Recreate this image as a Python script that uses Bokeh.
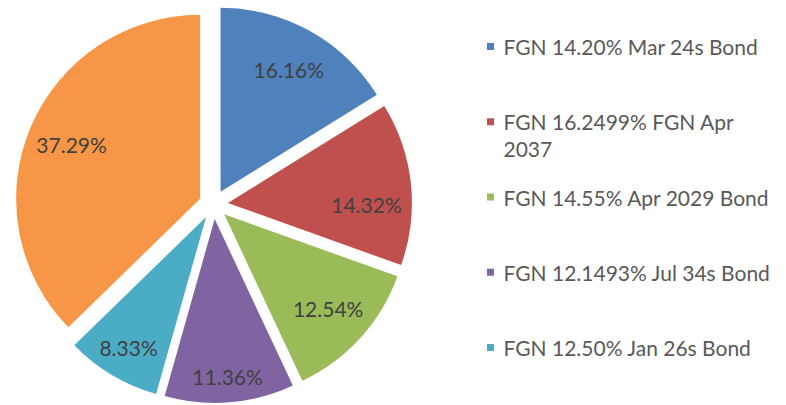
import numpy as np
from bokeh.plotting import figure
from bokeh.models import Range1d, ColumnDataSource
from bokeh.core.properties import value
from bokeh.embed import file_html
from bokeh.resources import INLINE

# ---- data ----
names = [
    "FGN 14.20% Mar 24s Bond",
    "FGN 16.2499% FGN Apr\n2037",
    "FGN 14.55% Apr 2029 Bond",
    "FGN 12.1493% Jul 34s Bond",
    "FGN 12.50% Jan 26s Bond",
    "Other",
]
shares = [16.16, 14.32, 12.54, 11.36, 8.33, 37.29]
colors = ["#4F81BD", "#C0504D", "#9BBB59", "#8064A2", "#4BACC6", "#F79646"]
legend_count = 5  # only the first five appear in the legend

# ---- layout / style ----
W, H = 786, 405
FONT = "Lato"
cx, cy = 213, 405 - 204      # pie centre (data units = px, y up)
R = 184
explode = 14.5
label_r = [155, 153, 155, 173, 166, 154]
label_dang = [0, -6, 0, 0, 0, 0]

p = figure(width=W, height=H, output_backend="svg", toolbar_location=None,
           x_range=Range1d(0, W), y_range=Range1d(405 - H, 405),
           min_border=0)
p.axis.visible = False
p.grid.visible = False
p.outline_line_color = None
p.background_fill_color = "white"
p.border_fill_color = "white"

vals = np.array(shares, dtype=float)
frac = vals / vals.sum()
c1 = np.cumsum(frac)
c0 = c1 - frac
start = np.deg2rad(90 - c1 * 360)
end = np.deg2rad(90 - c0 * 360)
mid = np.deg2rad(90 - (c0 + c1) / 2 * 360)
xs = cx + explode * np.cos(mid)
ys = cy + explode * np.sin(mid)

src = ColumnDataSource(dict(x=xs, y=ys, s=start, e=end, color=colors))
p.wedge(x="x", y="y", radius=R, start_angle="s", end_angle="e",
        direction="anticlock", fill_color="color", line_color=None, source=src)

lang = mid + np.deg2rad(label_dang)
lx = cx + np.array(label_r) * np.cos(lang)
ly = cy + np.array(label_r) * np.sin(lang)
labels = ["%.2f%%" % v for v in shares]
p.text(x=lx, y=ly, text=labels, text_align="center", text_baseline="middle",
       text_font=value(FONT), text_font_size="21px", text_color="#404040")

# legend (manual)
leg_x_sq = 490
leg_x_txt = 503
row_y0 = 405 - 46
row_step = 75.25
sq_x, sq_y, sq_c = [], [], []
tx, ty, tt = [], [], []
for i in range(legend_count):
    y = row_y0 - i * row_step
    sq_x.append(leg_x_sq)
    sq_y.append(y)
    sq_c.append(colors[i])
    for j, line in enumerate(names[i].split("\n")):
        tx.append(leg_x_txt)
        ty.append(y - j * 28)
        tt.append(line)
p.scatter(x=sq_x, y=sq_y, marker="square", size=7, fill_color=sq_c, line_color=None)
p.text(x=tx, y=ty, text=tt, text_align="left", text_baseline="middle",
       text_font=value(FONT), text_font_size="21px", text_color="#595959")

open("out.html", "w").write(file_html(p, INLINE))
